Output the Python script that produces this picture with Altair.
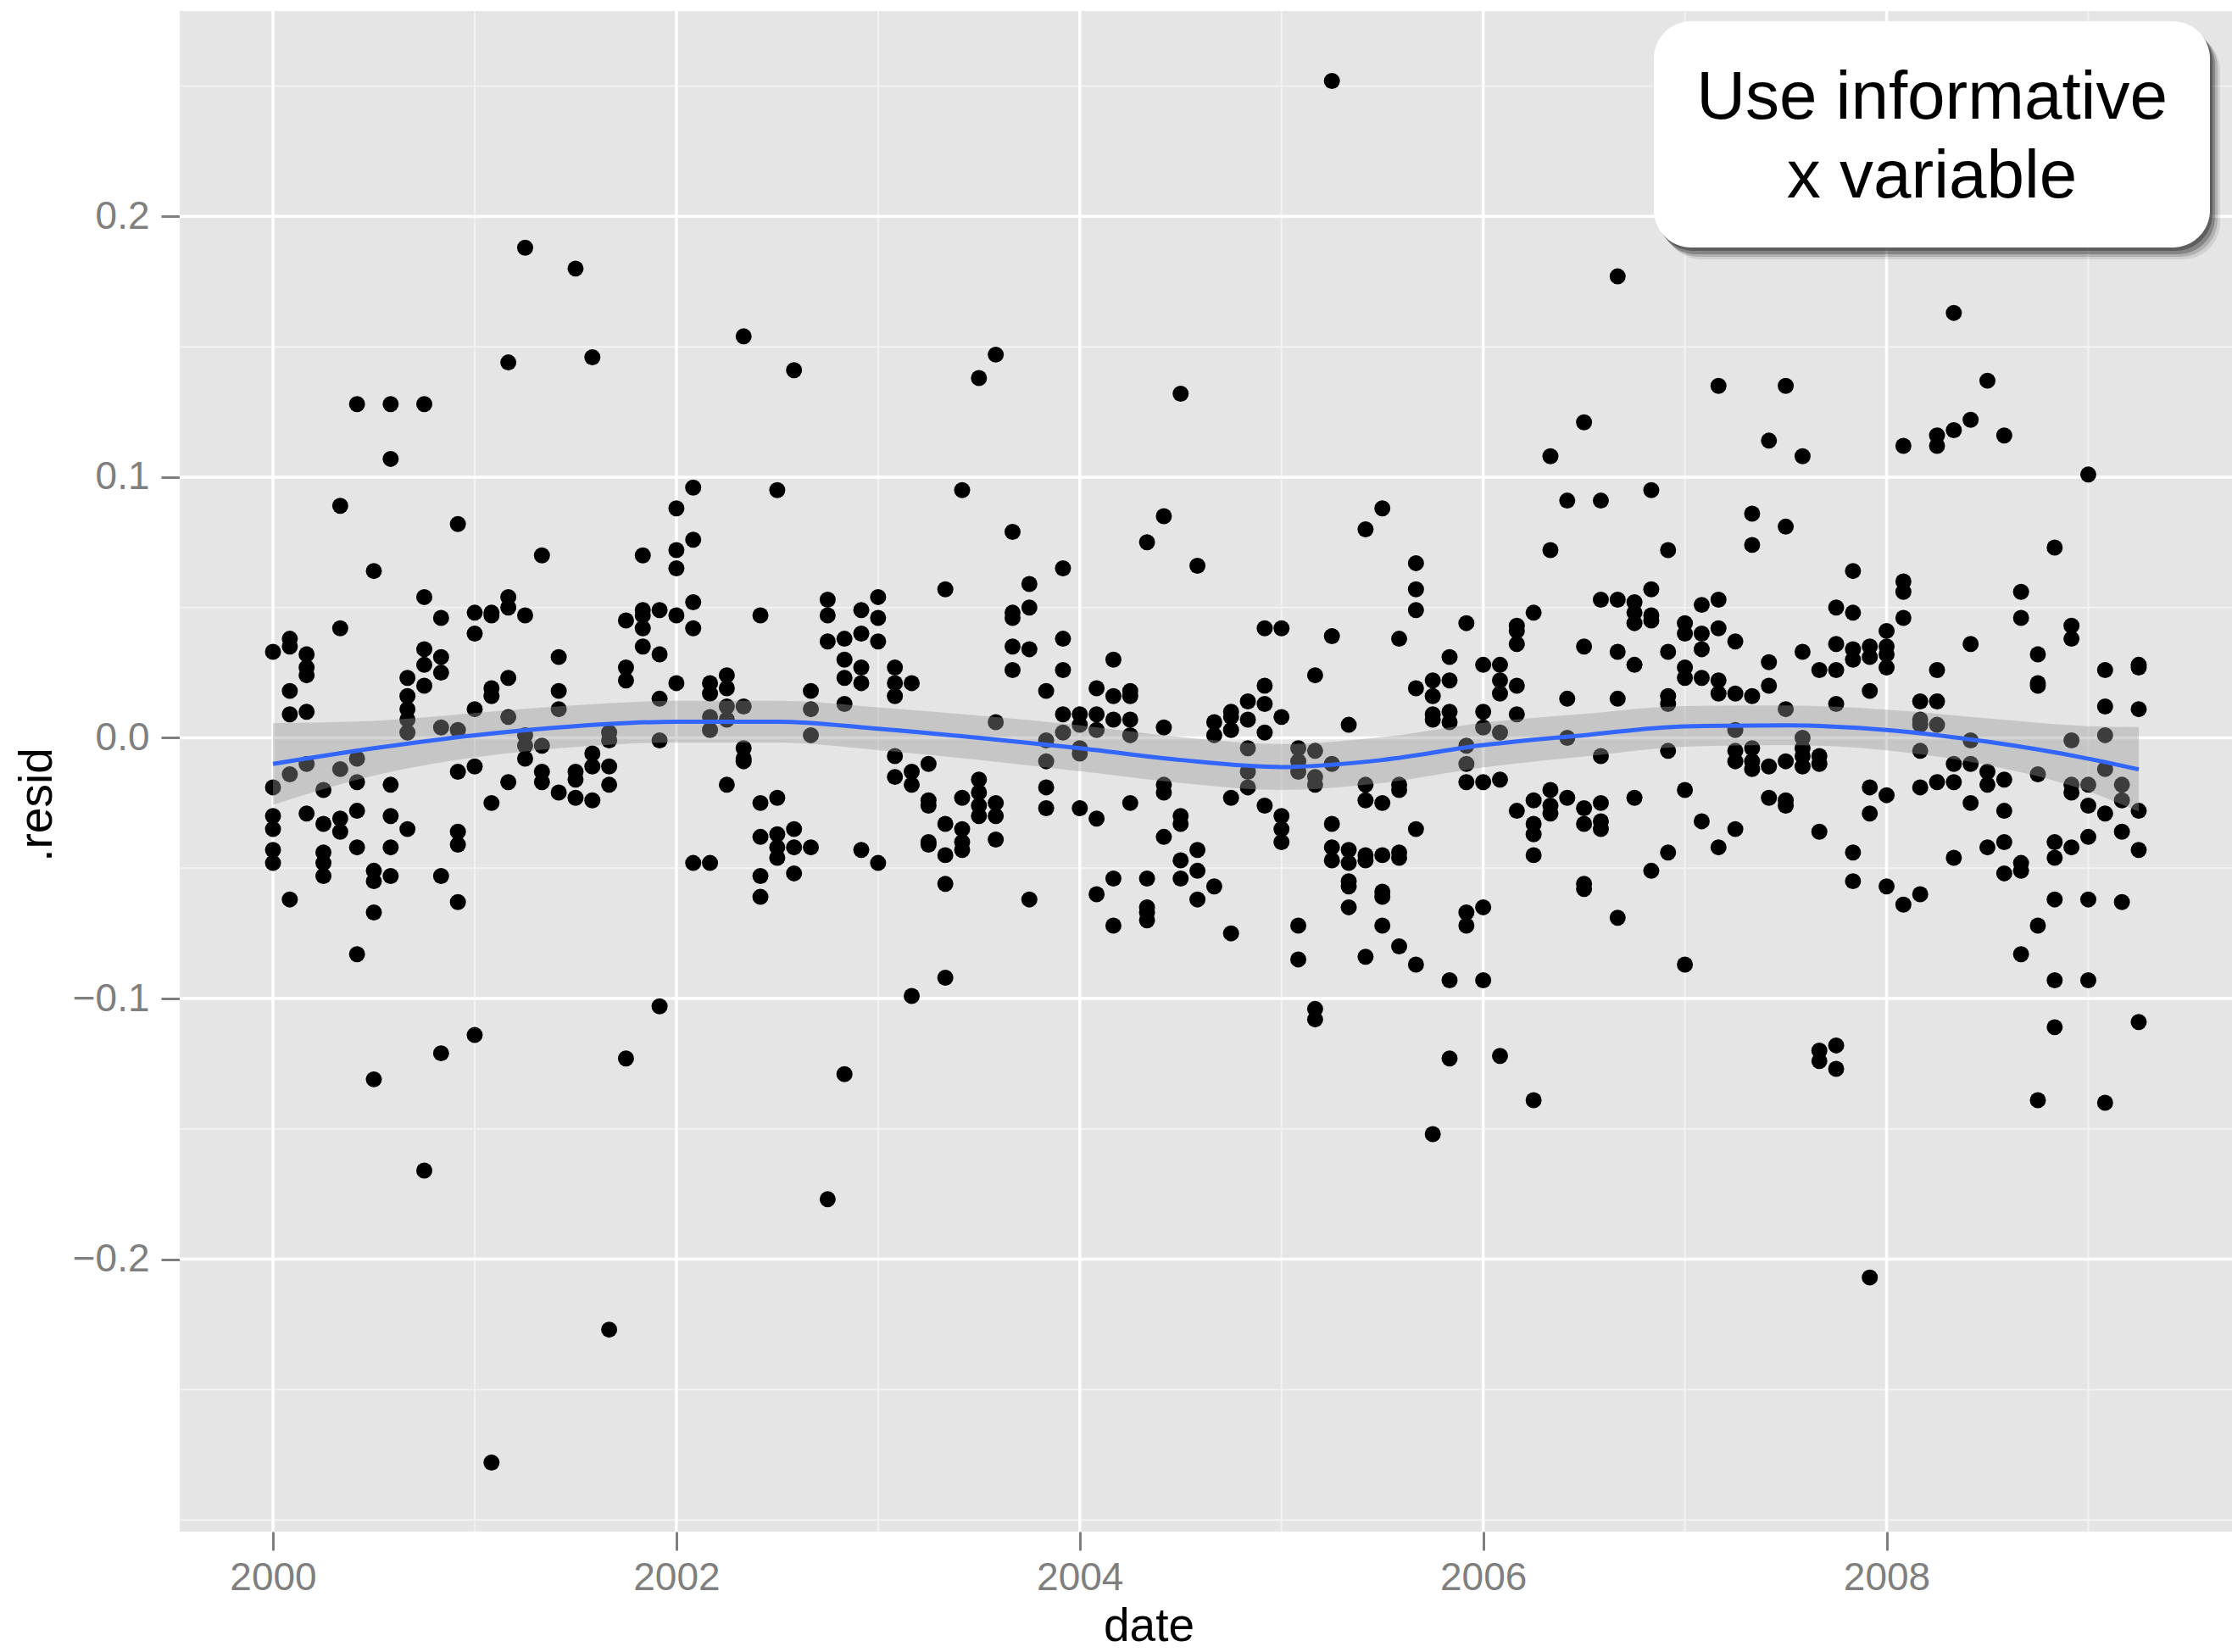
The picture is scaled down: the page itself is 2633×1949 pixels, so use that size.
import altair as alt
import pandas as pd

# ---------------- data ----------------
first_year = 2000  # first month = January 2000, one list per month
resid_by_month = [
    [0.033, -0.019, -0.030, -0.035, -0.043, -0.048],
    [0.038, 0.035, 0.018, 0.009, -0.014, -0.062],
    [0.032, 0.027, 0.024, 0.010, -0.010, -0.029],
    [-0.020, -0.033, -0.044, -0.048, -0.053],
    [0.089, 0.042, -0.012, -0.031, -0.036],
    [0.128, -0.008, -0.017, -0.028, -0.042, -0.083],
    [0.064, -0.051, -0.055, -0.067, -0.131],
    [0.128, 0.107, -0.018, -0.030, -0.042, -0.053],
    [0.023, 0.016, 0.011, 0.007, 0.002, -0.035],
    [0.128, 0.054, 0.034, 0.028, 0.020, -0.166],
    [0.046, 0.031, 0.025, 0.004, -0.053, -0.121],
    [0.082, 0.003, -0.013, -0.036, -0.041, -0.063],
    [0.048, 0.040, 0.011, -0.011, -0.114],
    [0.048, 0.047, 0.019, 0.016, -0.025, -0.278],
    [0.144, 0.054, 0.050, 0.023, 0.008, -0.017],
    [0.188, 0.047, 0.001, -0.003, -0.008],
    [0.070, -0.003, -0.013, -0.017],
    [0.031, 0.018, 0.011, -0.021],
    [0.180, -0.013, -0.016, -0.023],
    [0.146, -0.006, -0.011, -0.024],
    [0.002, -0.001, -0.011, -0.018, -0.227],
    [0.045, 0.027, 0.022, -0.123],
    [0.070, 0.049, 0.047, 0.042, 0.035],
    [0.049, 0.032, 0.015, -0.001, -0.103],
    [0.088, 0.072, 0.065, 0.047, 0.021],
    [0.096, 0.076, 0.052, 0.042, -0.048],
    [0.021, 0.017, 0.008, 0.003, -0.048],
    [0.024, 0.019, 0.012, 0.007, -0.018],
    [0.154, 0.012, -0.004, -0.008, -0.009],
    [0.047, -0.025, -0.038, -0.053, -0.061],
    [0.095, -0.023, -0.037, -0.042, -0.046],
    [0.141, -0.035, -0.042, -0.052],
    [0.018, 0.011, 0.001, -0.042],
    [0.053, 0.047, 0.037, -0.177],
    [0.038, 0.030, 0.023, 0.013, -0.129],
    [0.049, 0.040, 0.027, 0.021, -0.043],
    [0.054, 0.046, 0.037, -0.048],
    [0.027, 0.021, 0.016, -0.007, -0.015],
    [0.021, -0.013, -0.018, -0.099],
    [-0.010, -0.024, -0.026, -0.040, -0.041],
    [0.057, -0.033, -0.045, -0.056, -0.092],
    [0.095, -0.023, -0.035, -0.040, -0.043],
    [0.138, -0.016, -0.021, -0.026, -0.030],
    [0.147, 0.006, -0.025, -0.030, -0.039],
    [0.079, 0.048, 0.046, 0.035, 0.026],
    [0.059, 0.050, 0.034, -0.062],
    [0.018, -0.001, -0.009, -0.019, -0.027],
    [0.065, 0.038, 0.026, 0.009, 0.002],
    [0.009, 0.005, -0.004, -0.006, -0.027],
    [0.019, 0.009, 0.003, -0.031, -0.060],
    [0.030, 0.016, 0.007, -0.054, -0.072],
    [0.018, 0.016, 0.007, 0.001, -0.025],
    [0.075, -0.054, -0.065, -0.067, -0.070],
    [0.085, 0.004, -0.018, -0.021, -0.038],
    [0.132, -0.030, -0.033, -0.047, -0.054],
    [0.066, -0.043, -0.051, -0.062],
    [0.006, 0.001, -0.057],
    [0.010, 0.008, 0.003, -0.023, -0.075],
    [0.014, 0.007, -0.004, -0.013, -0.019],
    [0.042, 0.020, 0.013, 0.002, -0.026],
    [0.042, 0.008, -0.030, -0.035, -0.040],
    [-0.004, -0.009, -0.013, -0.072, -0.085],
    [0.024, -0.005, -0.015, -0.018, -0.104, -0.108],
    [0.252, 0.039, -0.010, -0.033, -0.042, -0.047],
    [0.005, -0.043, -0.048, -0.055, -0.057, -0.065],
    [0.080, -0.018, -0.024, -0.045, -0.047, -0.084],
    [0.088, -0.025, -0.045, -0.059, -0.061, -0.072],
    [0.038, -0.018, -0.020, -0.044, -0.046, -0.080],
    [0.067, 0.057, 0.049, 0.019, -0.035, -0.087],
    [0.022, 0.016, 0.009, 0.007, -0.152],
    [0.031, 0.022, 0.010, 0.006, -0.093, -0.123],
    [0.044, -0.003, -0.010, -0.017, -0.067, -0.072],
    [0.028, 0.010, 0.004, -0.017, -0.065, -0.093],
    [0.028, 0.022, 0.017, 0.002, -0.016, -0.122],
    [0.043, 0.041, 0.036, 0.020, 0.009, -0.028],
    [0.048, -0.024, -0.033, -0.037, -0.045, -0.139],
    [0.108, 0.072, -0.020, -0.026, -0.029],
    [0.091, 0.015, -0.000, -0.023],
    [0.121, 0.035, -0.027, -0.033, -0.056, -0.058],
    [0.091, 0.053, -0.007, -0.025, -0.032, -0.035],
    [0.177, 0.053, 0.033, 0.015, -0.069],
    [0.052, 0.048, 0.044, 0.028, -0.023],
    [0.095, 0.057, 0.047, 0.045, -0.051],
    [0.072, 0.033, 0.016, 0.013, -0.005, -0.044],
    [0.044, 0.040, 0.027, 0.023, -0.020, -0.087],
    [0.051, 0.040, 0.034, 0.023, -0.032],
    [0.135, 0.053, 0.042, 0.022, 0.017, -0.042],
    [0.037, 0.017, 0.003, -0.005, -0.009, -0.035],
    [0.086, 0.074, 0.016, -0.004, -0.009, -0.012],
    [0.114, 0.029, 0.020, -0.011, -0.023],
    [0.135, 0.081, 0.011, -0.009, -0.024, -0.026],
    [0.108, 0.033, -0.000, -0.004, -0.007, -0.011],
    [0.026, -0.007, -0.010, -0.036, -0.120, -0.124],
    [0.050, 0.036, 0.026, 0.013, -0.118, -0.127],
    [0.064, 0.048, 0.034, 0.030, -0.044, -0.055],
    [0.035, 0.031, 0.018, -0.019, -0.029, -0.207],
    [0.041, 0.035, 0.032, 0.027, -0.022, -0.057],
    [0.112, 0.060, 0.056, 0.046, -0.064],
    [0.014, 0.007, 0.005, -0.005, -0.019, -0.060],
    [0.116, 0.112, 0.026, 0.014, 0.005, -0.017],
    [0.163, 0.118, -0.010, -0.017, -0.046],
    [0.122, 0.036, -0.001, -0.010, -0.025],
    [0.137, -0.013, -0.018, -0.042],
    [0.116, -0.016, -0.028, -0.040, -0.052],
    [0.056, 0.046, -0.048, -0.051, -0.083],
    [0.032, 0.021, 0.020, -0.014, -0.072, -0.139],
    [0.073, -0.040, -0.046, -0.062, -0.093, -0.111],
    [0.043, 0.038, -0.001, -0.018, -0.021, -0.042],
    [0.101, -0.018, -0.026, -0.038, -0.062, -0.093],
    [0.026, 0.012, 0.001, -0.012, -0.029, -0.140],
    [-0.018, -0.024, -0.036, -0.063],
    [0.028, 0.027, 0.011, -0.028, -0.043, -0.109],
]

# smoother (fit and confidence band)
smooth_date = [2000.0, 2000.5, 2001.0, 2001.5, 2002.0, 2002.5, 2003.0, 2003.5,
               2004.0, 2004.5, 2005.0, 2005.5, 2006.0, 2006.5, 2007.0, 2007.5,
               2008.0, 2008.5, 2009.0, 2009.25]
smooth_fit = [-0.0100, -0.0040, 0.0010, 0.0045, 0.0062, 0.0062, 0.0035, 0.0000,
              -0.0040, -0.0085, -0.0112, -0.0085, -0.0028, 0.0010, 0.0044, 0.0048,
              0.0030, -0.0015, -0.0080, -0.0121]
smooth_lo = [-0.0257, -0.0145, -0.0075, -0.0035, -0.0018, -0.0018, -0.0047, -0.0085,
             -0.0128, -0.0173, -0.0200, -0.0173, -0.0114, -0.0072, -0.0034, -0.0028,
             -0.0048, -0.0105, -0.0205, -0.0283]
smooth_hi = [0.0057, 0.0065, 0.0095, 0.0125, 0.0142, 0.0142, 0.0117, 0.0085,
             0.0048, 0.0003, -0.0024, 0.0003, 0.0058, 0.0092, 0.0122, 0.0124,
             0.0108, 0.0075, 0.0045, 0.0041]

x_major = [2000, 2002, 2004, 2006, 2008]
x_minor = [2001, 2003, 2005, 2007, 2009]
y_major = [-0.2, -0.1, 0.0, 0.1, 0.2]
y_minor = [-0.3, -0.25, -0.15, -0.05, 0.05, 0.15, 0.25]

note_lines = ["Use informative", "x variable"]

# ---------------- tables ----------------
rows = []
for i, vals in enumerate(resid_by_month):
    for v in vals:
        rows.append({"date": first_year + i / 12.0, "resid": v})
points_df = pd.DataFrame(rows)
smooth_df = pd.DataFrame({"date": smooth_date, "fit": smooth_fit,
                          "lo": smooth_lo, "hi": smooth_hi})

FONT = "Liberation Sans"
GREY = "#7F7F7F"

x_scale = alt.Scale(domain=[1999.5375, 2009.7125], nice=False, zero=False)
y_scale = alt.Scale(domain=[-0.3045, 0.2788], nice=False, zero=False)

x_axis = alt.Axis(values=x_major, format="d", title="date", grid=False, domain=False,
                  labelFont=FONT, labelFontSize=46, labelColor=GREY, labelPadding=10,
                  tickColor=GREY, tickSize=22, tickWidth=3,
                  titleFont=FONT, titleFontSize=55, titleFontWeight="normal",
                  titleColor="black", titlePadding=8, titleX=1143)
y_axis = alt.Axis(values=y_major, format=".1f", title=".resid", grid=False, domain=False,
                  labelFont=FONT, labelFontSize=46, labelColor=GREY, labelPadding=14,
                  tickColor=GREY, tickSize=22, tickWidth=3,
                  titleFont=FONT, titleFontSize=55, titleFontWeight="normal",
                  titleColor="black", titlePadding=13, titleY=936)

X = lambda f: alt.X(f, scale=x_scale, axis=x_axis)
Y = lambda f: alt.Y(f, scale=y_scale, axis=y_axis)

gx_major = alt.Chart(pd.DataFrame({"date": x_major})).mark_rule(
    color="white", strokeWidth=3.5).encode(x=X("date:Q"))
gx_minor = alt.Chart(pd.DataFrame({"date": x_minor})).mark_rule(
    color="#F2F2F2", strokeWidth=2).encode(x=X("date:Q"))
gy_major = alt.Chart(pd.DataFrame({"resid": y_major})).mark_rule(
    color="white", strokeWidth=3.5).encode(y=Y("resid:Q"))
gy_minor = alt.Chart(pd.DataFrame({"resid": y_minor})).mark_rule(
    color="#F2F2F2", strokeWidth=2).encode(y=Y("resid:Q"))

pts = alt.Chart(points_df).mark_circle(color="black", opacity=1, size=360).encode(
    x=X("date:Q"), y=Y("resid:Q"))

band = alt.Chart(smooth_df).mark_area(color="#999999", opacity=0.4,
                                      interpolate="monotone").encode(
    x=X("date:Q"), y=Y("lo:Q"), y2="hi:Q")
line = alt.Chart(smooth_df).mark_line(color="#3366FF", strokeWidth=5,
                                      interpolate="monotone").encode(
    x=X("date:Q"), y=Y("fit:Q"))

# annotation box (pixel positions inside the plot area)
one = pd.DataFrame({"k": [0]})
bx0, bx1, by0, by1 = 1739, 2395, 12, 279
shadows = []
for dx, dy, op in [(12, 14, 0.10), (9, 11, 0.18), (6, 8, 0.30), (3, 4, 0.40)]:
    shadows.append(alt.Chart(one).mark_rect(color="#222222", opacity=op,
                                            cornerRadius=44).encode(
        x=alt.value(bx0 + dx), x2=alt.value(bx1 + dx),
        y=alt.value(by0 + dy), y2=alt.value(by1 + dy)))
box = alt.Chart(one).mark_rect(color="white", cornerRadius=44).encode(
    x=alt.value(bx0), x2=alt.value(bx1), y=alt.value(by0), y2=alt.value(by1))
note = alt.Chart(one).mark_text(text=note_lines, font=FONT, fontSize=80,
                                color="black", align="center",
                                baseline="alphabetic", lineHeight=93).encode(
    x=alt.value((bx0 + bx1) / 2), y=alt.value(127))

chart = alt.layer(gx_minor, gy_minor, gx_major, gy_major, pts, band, line,
                  *shadows, box, note).properties(
    width=2421, height=1794,
    autosize=alt.AutoSizeParams(type="none"),
    padding={"left": 212, "top": 13, "right": 0, "bottom": 142},
    background="white",
).configure_view(fill="#E5E5E5", strokeWidth=0)

chart.save("out.html", embed_options={"renderer": "svg", "actions": False})
